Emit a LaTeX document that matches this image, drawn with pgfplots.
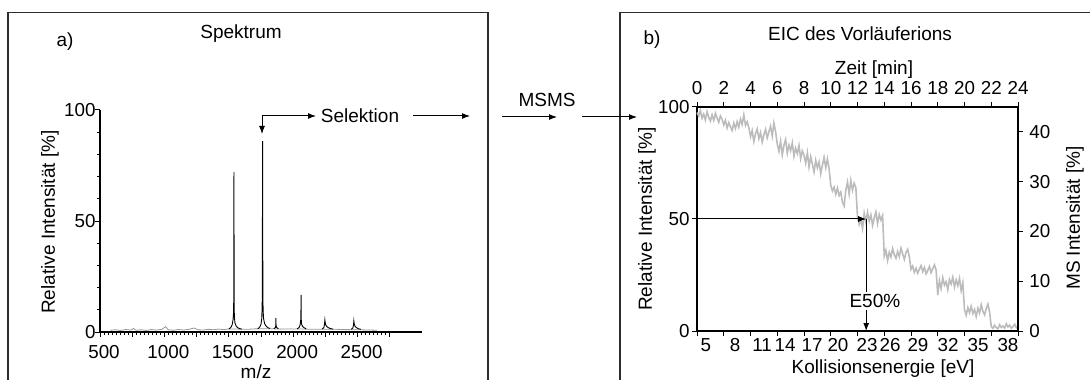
\documentclass[border=0pt]{standalone}
\usepackage{pgfplots}
\pgfplotsset{compat=1.18}
\usepackage{fontspec}
\setmainfont{Liberation Sans}
\usetikzlibrary{arrows.meta}
\definecolor{eic}{RGB}{188,188,188}
\definecolor{specgray}{RGB}{150,150,150}
\definecolor{framec}{RGB}{45,45,45}
\begin{document}
\begin{tikzpicture}
\useasboundingbox (0,0) rectangle (545pt,190pt);
\pgfplotsset{
  common/.style={
    scale only axis,
    tick align=outside,
    major tick length=2.5pt,
    minor tick length=1.5pt,
    every tick/.style={black, line width=0.5pt},
    axis line style={black, line width=0.6pt},
    tick label style={font=\fontsize{9.4}{10.5}\selectfont, inner sep=1pt},
    /pgf/number format/assume math mode=true,
    clip=false,
  }
}
% ---------------- Panel a: spectrum ----------------
\begin{axis}[common, at={(50pt,24pt)}, anchor=south west,
  width=161pt, height=111pt,
  xmin=500, xmax=3000, ymin=0, ymax=100,
  axis x line*=bottom, axis y line*=left,
  xtick={500,750,...,2750}, xticklabels={500,,1000,,1500,,2000,,2500,},
  minor x tick num=7,
  ytick={0,50,100}, minor y tick num=4,
  xticklabel style={xshift=2pt, yshift=-3pt},
  yticklabel style={xshift=1.5pt},
]
\addplot[specgray, line width=0.4pt] coordinates {
(580,0.8) (620,1.0) (660,0.7) (700,1.1) (740,0.9) (760,1.6) (780,0.8) (820,1.0)
(860,0.7) (900,1.1) (940,0.9) (980,1.2) (1010,2.4) (1030,1.0) (1070,0.8) (1110,1.1)
(1150,0.9) (1190,1.2) (1230,1.8) (1260,1.0) (1300,0.9) (1340,1.2) (1380,1.0) (1420,1.3)
(1460,1.1) (1500,1.4) (1580,1.3) (1640,1.2) (1700,1.4) (1820,1.5) (1900,1.3) (1980,1.4)
(2100,1.3) (2180,1.2) (2300,1.3) (2380,1.1) (2520,1.0) (2580,0.9) (2650,0.8)};
\addplot[black, line width=0.45pt] coordinates {
(1500,1.3) (1515,2.0) (1526,3.2) (1533,5.5) (1537,9) (1538.5,15) (1540,72) (1541.5,14)
(1543,7) (1548,4) (1556,2.8) (1568,2.0) (1585,1.5) (1600,1.3)};
\addplot[black, line width=0.45pt] coordinates {
(1725,1.4) (1740,2.2) (1750,3.5) (1756,6) (1759,12) (1760.5,20) (1762,86) (1763.5,25)
(1764.5,32) (1766,10) (1770,6) (1778,3.8) (1790,2.6) (1805,1.9) (1820,1.6)};
\addplot[black, line width=0.45pt] coordinates {
(1850,1.5) (1862,2.0) (1865,3.0) (1866,6.3) (1867,2.8) (1872,2.0) (1885,1.5)};
\addplot[black, line width=0.45pt] coordinates {
(2030,1.4) (2045,2.0) (2053,3) (2058,5) (2060,9) (2061,16.7) (2062,6) (2065,3.5)
(2072,2.6) (2085,1.9) (2100,1.5)};
\addplot[black, line width=0.45pt] coordinates {
(2225,1.3) (2238,2.0) (2243,3.5) (2246,5.4) (2248,4.5) (2252,3.2) (2260,2.5) (2272,2.0)
(2290,1.5) (2310,1.3)};
\addplot[black, line width=0.45pt] coordinates {
(2450,1.2) (2463,1.8) (2468,3) (2471,5.0) (2474,3.6) (2480,2.6) (2490,2.0) (2505,1.5)
(2525,1.2)};
\end{axis}

% ---------------- Panel b: EIC (left / bottom) ----------------
\begin{axis}[common, at={(348.5pt,24.5pt)}, anchor=south west,
  width=160.5pt, height=112pt,
  xmin=0, xmax=24, ymin=0, ymax=100,
  axis x line*=bottom, axis y line*=left,
  xtick={0,2,...,24}, xticklabels={},
  extra x ticks={0.67,2.84,4.86,6.58,8.6,10.54,12.71,14.43,16.52,18.77,21.01,23.25},
  extra x tick labels={5,8,11,14,17,20,23,26,29,32,35,38},
  extra x tick style={major tick length=0pt, xticklabel style={yshift=-2.5pt}},
  ytick={0,50,100},
]
\addplot[eic, line width=0.8pt] coordinates {
(0.000,97.5) (0.125,96.0) (0.250,98.5) (0.375,95.0) (0.500,96.8) (0.625,94.2) (0.750,97.9) (0.875,95.5)
(1.000,93.8) (1.125,96.5) (1.250,94.0) (1.375,97.2) (1.500,95.1) (1.625,93.2) (1.750,96.0) (1.875,94.5)
(2.000,92.0) (2.125,94.1) (2.250,90.6) (2.375,93.0) (2.500,91.2) (2.625,89.5) (2.750,92.8) (2.875,90.4)
(3.000,93.5) (3.125,91.0) (3.250,94.6) (3.375,92.2) (3.500,96.5) (3.625,91.8) (3.750,93.4) (3.875,90.8)
(4.000,86.8) (4.125,89.5) (4.250,84.6) (4.375,88.0) (4.500,90.2) (4.625,85.9) (4.750,88.6) (4.875,84.3)
(5.000,87.5) (5.125,90.0) (5.250,86.2) (5.375,88.9) (5.500,91.4) (5.625,87.0) (5.750,92.8) (5.875,89.0)
(6.000,83.5) (6.125,80.2) (6.250,84.8) (6.375,78.6) (6.500,82.9) (6.625,85.5) (6.750,79.4) (6.875,83.0)
(7.000,80.5) (7.125,84.0) (7.250,78.0) (7.375,81.6) (7.500,79.2) (7.625,82.8) (7.750,77.0) (7.875,80.4)
(8.000,78.5) (8.125,75.0) (8.250,79.6) (8.375,73.2) (8.500,77.8) (8.625,74.5) (8.750,71.0) (8.875,76.2)
(9.000,72.8) (9.125,75.5) (9.250,70.2) (9.375,74.0) (9.500,77.5) (9.625,73.0) (9.750,76.8) (9.875,72.5)
(10.000,65.0) (10.125,62.5) (10.250,64.2) (10.375,61.0) (10.500,63.8) (10.625,60.5) (10.750,62.0) (10.875,57.5)
(11.000,55.8) (11.125,63.0) (11.250,66.5) (11.375,61.2) (11.500,67.2) (11.625,62.8) (11.750,66.0) (11.875,64.0)
(12.000,51.0) (12.125,47.5) (12.250,49.8) (12.375,45.8) (12.500,52.5) (12.625,48.6) (12.750,53.0) (12.875,49.0)
(13.000,51.8) (13.125,47.2) (13.250,50.5) (13.375,53.2) (13.500,48.0) (13.625,52.0) (13.750,49.5) (13.875,51.5)
(14.000,33.5) (14.125,36.0) (14.250,31.5) (14.375,35.2) (14.500,33.0) (14.625,36.8) (14.750,34.0) (14.875,32.5)
(15.000,35.5) (15.125,33.2) (15.250,37.0) (15.375,34.4) (15.500,32.0) (15.625,35.0) (15.750,36.5) (15.875,33.0)
(16.000,27.5) (16.125,29.0) (16.250,26.2) (16.375,28.0) (16.500,25.8) (16.625,27.6) (16.750,29.2) (16.875,26.5)
(17.000,28.4) (17.125,25.5) (17.250,27.0) (17.375,28.8) (17.500,26.0) (17.625,27.8) (17.750,29.5) (17.875,27.2)
(18.000,16.0) (18.125,22.5) (18.250,19.0) (18.375,23.8) (18.500,20.5) (18.625,22.0) (18.750,18.4) (18.875,23.0)
(19.000,21.0) (19.125,24.0) (19.250,19.6) (19.375,22.8) (19.500,20.2) (19.625,23.5) (19.750,18.0) (19.875,21.5)
(20.000,9.5) (20.125,7.0) (20.250,10.5) (20.375,8.2) (20.500,11.0) (20.625,7.8) (20.750,9.6) (20.875,6.5)
(21.000,10.2) (21.125,8.0) (21.250,11.8) (21.375,8.8) (21.500,7.2) (21.625,10.0) (21.750,12.0) (21.875,8.5)
(22.000,2.0) (22.125,1.2) (22.250,2.5) (22.375,1.5) (22.500,1.0) (22.625,2.8) (22.750,1.6) (22.875,2.2)
(23.000,1.3) (23.125,3.2) (23.250,1.8) (23.375,2.6) (23.500,1.2) (23.625,2.0) (23.750,3.0) (23.875,1.5)
(24.000,2.2)};
\draw[black, line width=0.5pt, -{Latex[length=4pt,width=3pt]}] (axis cs:0,50) -- (axis cs:12.65,50);
\draw[black, line width=0.5pt, -{Latex[length=4pt,width=3pt]}] (axis cs:12.65,50) -- (axis cs:12.65,0);
\node[fill=white, inner sep=1pt, font=\fontsize{9.5}{11}\selectfont] at (axis cs:13.3,13.3) {E50\%};
\end{axis}

% ---------------- Panel b: top / right axes ----------------
\begin{axis}[common, at={(348.5pt,24.5pt)}, anchor=south west,
  width=160.5pt, height=112pt,
  xmin=0, xmax=24, ymin=0, ymax=45,
  axis x line*=top, axis y line*=right,
  xtick={0,2,...,24},
  ytick={0,10,20,30,40},
  xticklabel style={yshift=2.5pt},
  yticklabel style={xshift=2pt},
]
\addplot[draw=none, forget plot] coordinates {(0,0)};
\end{axis}

% ---------------- Frames, texts, arrows (pixel grid) ----------------
\begin{scope}[x=0.5pt, y=-0.5pt, shift={(0pt,190pt)}]
  \draw[framec, line width=0.75pt] (8,380) -- (8,12.5) -- (488,12.5) -- (488,380);
  \draw[framec, line width=0.75pt] (620,380) -- (620,12.5) -- (1090,12.5);
  \begin{scope}[font=\fontsize{9.5}{11}\selectfont]
    \node at (65,42) {a)};
    \node at (241,34) {Spektrum};
    \node at (652,40) {b)};
    \node at (860,34) {EIC des Vorläuferions};
    \node at (874,70) {Zeit [min]};
    \node at (360,116) {Selektion};
    \node at (547,100) {MSMS};
    \node at (256,372) {m/z};
    \node at (883,369) {Kollisionsenergie [eV]};
    \node[rotate=90] at (50,222) {Relative Intensität [\%]};
    \node[rotate=90] at (647,219) {Relative Intensität [\%]};
    \node[rotate=90] at (1075,218) {MS Intensität [\%]};
  \end{scope}
  \draw[black, line width=0.5pt, {Latex[length=4pt,width=3pt]}-{Latex[length=4pt,width=3pt]}]
    (262,134) -- (262,116) -- (316,116);
  \draw[black, line width=0.5pt, -{Latex[length=4pt,width=3pt]}] (413,116) -- (470,116);
  \draw[black, line width=0.5pt, -{Latex[length=4pt,width=3pt]}] (502,117) -- (557,117);
  \draw[black, line width=0.5pt, -{Latex[length=4pt,width=3pt]}] (582,117) -- (637,117);
\end{scope}
\end{tikzpicture}
\end{document}
